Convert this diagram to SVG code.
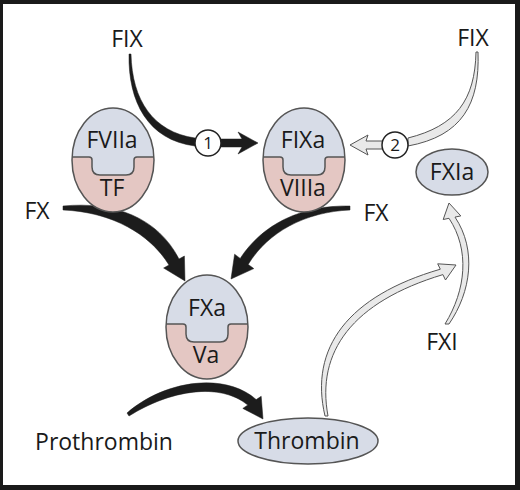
<svg xmlns="http://www.w3.org/2000/svg" width="520" height="490" viewBox="0 0 520 490">
<defs>
<style>
text{font-family:"Open Sans","Liberation Sans",sans-serif;fill:#1a1a1a;text-anchor:middle}
.lbl{font-size:23px}
.num{font-size:17px}
.blue{fill:#d7dce7}
.pink{fill:#e4c7c3}
.edge{fill:none;stroke:#555;stroke-width:1.5}
.blk{fill:#1c1c1c;stroke:#1c1c1c;stroke-width:0.5;stroke-linejoin:round}
.hol{fill:#e9e9e9;stroke:#555;stroke-width:1;stroke-linejoin:round}
.badge{fill:#fff;stroke:#222;stroke-width:1.5}
</style>
<clipPath id="egg"><ellipse cx="0" cy="0" rx="41" ry="52"/></clipPath>
<g id="complex">
<ellipse class="pink" cx="0" cy="0" rx="41" ry="52"/>
<path class="blue" clip-path="url(#egg)" d="M -45 -60 H 45 V -3 H 24 Q 21 -3 21 0 V 7 Q 21 15 13 15 H -13 Q -21 15 -21 7 V 0 Q -21 -3 -24 -3 H -45 Z"/>
<path class="edge" clip-path="url(#egg)" d="M -45 -3 H -24 Q -21 -3 -21 0 V 7 Q -21 15 -13 15 H 13 Q 21 15 21 7 V 0 Q 21 -3 24 -3 H 45"/>
<ellipse class="edge" cx="0" cy="0" rx="41" ry="52"/>
</g>
</defs>
<rect x="0" y="0" width="520" height="490" fill="#1a1a1a"/>
<rect x="3" y="4" width="512" height="481" fill="#fff"/>

<g id="connectors">
<path class="blk" d="M 129 54 C 128 102 148 140 195 146 L 195 138 C 153 132 132 100 131 54 Z"/>
<path class="blk" d="M 218 139 H 242 L 238 132 L 258 143 L 238 154 L 242 147 H 218 Z"/>
<path class="hol" d="M 478 52 C 480 104 462 136 408 146 L 408 138 C 456 126 475 100 476 52 Z"/>
<path class="hol" d="M 383 141 H 366 L 368 135 L 350 145 L 368 155 L 366 149 H 383 Z"/>
<path class="blk" d="M 63 206 C 115 201 158 218 179 259 L 184.4 256 L 185 281 L 163.6 268 L 169 265 C 150 234 112 212 63 210 Z"/>
<path class="blk" d="M 350 206 C 300 205 262 225 240.2 258.4 L 234.6 254.2 L 231 279 L 253.8 268.6 L 248.2 264.4 C 268 232 305 212 350 210 Z"/>
<path class="blk" d="M 127 413 C 165 380 225 372 256.2 399.6 L 261.2 396.3 L 263 419 L 242.8 408.4 L 247.8 405 C 220 382 170 390 129 416 Z"/>
<path class="hol" d="M 325 416 C 309 348 348 296 440.3 269.2 L 437.7 263.8 L 456 265 L 445.5 280 L 442.9 274.6 C 352 302 316 352 328 416 Z"/>
<path class="hol" d="M 445 324 C 466 290 470 250 449 218.3 L 443.2 219.5 L 449 203 L 460.8 215.9 L 455 217.1 C 477 250 471 292 449 324 Z"/>
<g id="badge1"><circle class="badge" cx="208" cy="143" r="13"/><text class="num" x="208" y="149">1</text></g>
<g id="badge2"><circle class="badge" cx="395" cy="145" r="13"/><text class="num" x="395" y="151">2</text></g>
</g>

<g id="node-fviia-tf">
<use href="#complex" x="113" y="160"/>
<text class="lbl" x="112" y="148">FVIIa</text>
<text class="lbl" x="112" y="196">TF</text>
</g>
<g id="node-fixa-viiia">
<use href="#complex" x="304" y="160"/>
<text class="lbl" x="303" y="148">FIXa</text>
<text class="lbl" x="303" y="196">VIIIa</text>
</g>
<g id="node-fxa-va">
<use href="#complex" x="207" y="327"/>
<text class="lbl" x="207" y="316">FXa</text>
<text class="lbl" x="206" y="363">Va</text>
</g>
<g id="node-fxia">
<ellipse class="blue" cx="452" cy="172" rx="36" ry="23"/>
<ellipse class="edge" cx="452" cy="172" rx="36" ry="23"/>
<text class="lbl" x="452" y="180">FXIa</text>
</g>
<g id="node-thrombin">
<ellipse class="blue" cx="308" cy="441" rx="70" ry="23"/>
<ellipse class="edge" cx="308" cy="441" rx="70" ry="23"/>
<text class="lbl" x="307" y="449">Thrombin</text>
</g>
<g id="node-fix-left"><text class="lbl" x="127" y="47">FIX</text></g>
<g id="node-fix-right"><text class="lbl" x="473" y="46">FIX</text></g>
<g id="node-fx-left"><text class="lbl" x="37" y="219">FX</text></g>
<g id="node-fx-right"><text class="lbl" x="376" y="221">FX</text></g>
<g id="node-fxi"><text class="lbl" x="442" y="350">FXI</text></g>
<g id="node-prothrombin"><text class="lbl" x="104" y="450">Prothrombin</text></g>
</svg>
